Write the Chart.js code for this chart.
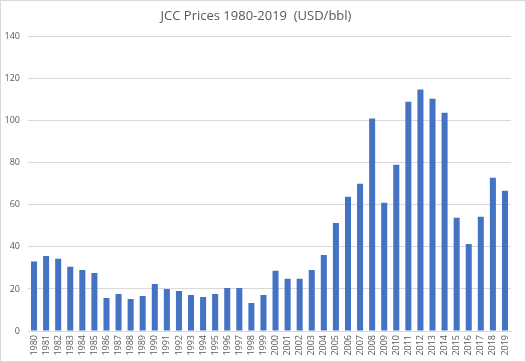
<!DOCTYPE html>
<html>
<head>
<meta charset="utf-8">
<script src="https://cdn.jsdelivr.net/npm/chart.js@4.4.0/dist/chart.umd.min.js"></script>
<style>
  html, body { margin: 0; padding: 0; background: #fff; }
  .chartBox { width: 524px; height: 360px; border: 1px solid #d9d9d9; }
</style>
</head>
<body>
<div class="chartBox"><canvas id="myChart"></canvas></div>
<script>
const years = [];
for (let y = 1980; y <= 2019; y++) years.push(String(y));

const prices = [
  33, 35.7, 34.3, 30.5, 29, 27.6, 15.7, 17.6, 15.2, 16.7,
  22.4, 20, 19, 17.1, 16.2, 17.6, 20.5, 20.5, 13.3, 17.1,
  28.6, 24.8, 24.8, 29, 36.2, 51.4, 63.8, 70, 101, 61,
  79, 109, 114.8, 110.5, 103.8, 53.8, 41.4, 54.3, 72.9, 66.7
];

const yTicks = [0, 20, 40, 60, 80, 100, 120, 140];

const config = {
  type: 'bar',
  data: {
    labels: years,
    datasets: [{
      label: 'JCC',
      data: prices,
      backgroundColor: '#4472C4',
      barPercentage: 0.5,
      categoryPercentage: 1
    }]
  },
  options: {
    responsive: false,
    animation: false,
    layout: { padding: { left: 0, right: 14, top: 0, bottom: 0 } },
    plugins: {
      legend: { display: false },
      tooltip: { enabled: false },
      title: {
        display: true,
        text: 'JCC Prices 1980-2019  (USD/bbl)',
        color: '#595959',
        font: { family: 'Open Sans', size: 13, weight: 'normal' },
        padding: { top: 7, bottom: 13 }
      }
    },
    scales: {
      x: {
        grid: { display: false, drawTicks: false },
        border: { color: '#d9d9d9' },
        ticks: {
          color: '#595959',
          font: { family: 'Open Sans', size: 9 },
          maxRotation: 90,
          minRotation: 90,
          autoSkip: false,
          padding: 4
        },
        afterFit: (s) => { s.height = 30; }
      },
      y: {
        min: 0,
        max: 140,
        afterBuildTicks: (s) => { s.ticks = yTicks.map(v => ({ value: v })); },
        grid: { color: '#d9d9d9', drawTicks: false },
        border: { display: false },
        ticks: {
          color: '#595959',
          font: { family: 'Open Sans', size: 9 },
          padding: 8
        },
        afterFit: (s) => { s.width = 27; }
      }
    }
  }
};

const canvas = document.getElementById('myChart');
canvas.width = 524;
canvas.height = 360;
new Chart(canvas, config);
</script>
</body>
</html>
